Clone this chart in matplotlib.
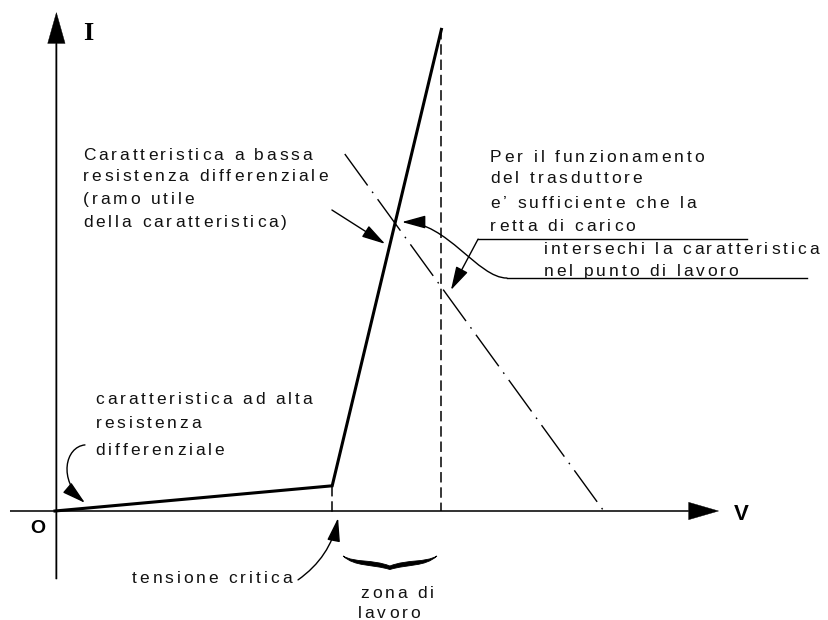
import matplotlib
matplotlib.use("Agg")
import matplotlib.pyplot as plt
from matplotlib.patches import FancyArrowPatch, PathPatch
from matplotlib.path import Path
from matplotlib.font_manager import FontProperties, findfont, get_font

plt.rcParams['lines.scale_dashes'] = False

# ---- data (arbitrary V / I units) ----
V_char = [0.0, 9.9, 13.8]      # piecewise characteristic
I_char = [0.0, 0.9, 17.2]
V_load = [10.35, 19.6]         # load line (retta di carico)
I_load = [12.75, 0.0]
V_crit = 9.9                   # tensione critica
V_top = 13.8                   # end of working zone

# ---- figure ----
S = 28.0  # px per unit
fig = plt.figure(figsize=(8.29, 6.20), dpi=100)
ax = fig.add_axes([0, 0, 1, 1])
ax.set_xlim(-55 / S, 774 / S)
ax.set_ylim(-109 / S, 511 / S)
ax.axis('off')

# axes with arrows
ax.arrow(-1.6, 0, 23.7 + 1.6, 0, width=0.045, head_width=0.62, head_length=1.07,
         length_includes_head=True, fc='k', ec='k', lw=0.3)
ax.arrow(0.05, -2.43, 0, 17.8 + 2.43, width=0.045, head_width=0.62, head_length=1.1,
         length_includes_head=True, fc='k', ec='k', lw=0.3)

# characteristic
ax.plot(V_char, I_char, color='k', lw=2.2, solid_joinstyle='miter', zorder=3)

# dashed verticals
ax.plot([V_crit, V_crit], [I_char[1], -0.15], color='k', lw=1.1, ls=(0, (7.5, 3.5)))
ax.plot([V_top, V_top], [I_char[2], 0], color='k', lw=1.1, ls=(0, (7.5, 3.5)))

# load line (dash-dot)
ax.plot(V_load, I_load, color='k', lw=1.0, ls=(0, (28, 5.5, 1.2, 5.5)))


def tracked(x, y, s, size=12.5, track=2.1, family='Liberation Sans', weight='normal'):
    fp = FontProperties(family=family, size=size, weight=weight)
    font = get_font(findfont(fp))
    font.set_size(size, 72)
    off = 0.0
    for ch in s:
        if ch != ' ':
            ax.annotate(ch, xy=(x, y), xytext=(off, 0), textcoords='offset points',
                        ha='left', va='baseline', fontproperties=fp, color='#111111')
        g = font.load_char(ord(ch))
        off += g.linearHoriAdvance / 65536.0 + track


# text block 1
for s, yy in zip(["Caratteristica a bassa", "resistenza differenziale",
                  "(ramo utile", "della caratteristica)"],
                 [12.54, 11.79, 10.96, 10.14]):
    tracked(1.0, yy, s)

# text block 2
for s, xx, yy in zip(["Per il funzionamento", "del trasduttore", "e\u2019 sufficiente che la",
                      "retta di carico", "intersechi la caratteristica", "nel punto di lavoro"],
                     [15.54, 15.54, 15.54, 15.54, 17.46, 17.46],
                     [12.46, 11.71, 10.82, 10.0, 9.18, 8.39]):
    tracked(xx, yy, s)

# text block 3
for s, yy in zip(["caratteristica ad alta", "resistenza", "differenziale"],
                 [3.82, 2.96, 2.0]):
    tracked(1.45, yy, s)

tracked(2.75, -2.57, "tensione critica")
tracked(10.9, -3.11, "zona di")
tracked(10.82, -3.82, "lavoro")

# axis labels
ax.text(1.18, 17.07, "I", fontsize=19, fontweight='bold', family='Liberation Serif',
        ha='center', va='center')
ax.text(24.5, -0.14, "V", fontsize=16, fontweight='bold', family='Liberation Sans',
        ha='center', va='center')
ax.text(-0.61, -0.64, "O", fontsize=14, fontweight='bold', family='Liberation Sans',
        ha='center', va='center')

astyle = "-|>,head_length=1.45,head_width=0.4"


def arrow(p0, p1, rad=0.0):
    a = FancyArrowPatch(p0, p1, arrowstyle=astyle, mutation_scale=10,
                        connectionstyle=f"arc3,rad={rad}", color='k', lw=1.0,
                        shrinkA=0, shrinkB=0, zorder=4)
    ax.add_patch(a)


def path_arrow(pts):
    p = Path(pts, [Path.MOVETO, Path.CURVE4, Path.CURVE4, Path.CURVE4])
    ax.add_patch(FancyArrowPatch(path=p, arrowstyle=astyle, mutation_scale=10,
                                 color='k', lw=1.0, zorder=4))


# arrow from block 1 to characteristic
arrow((9.89, 10.75), (11.79, 9.54))
# arrow from upper line to load line
ax.plot([24.71, 15.11], [9.71, 9.71], color='k', lw=1.0)
arrow((15.11, 9.71), (14.14, 7.89))
# lower line with S-curve to characteristic
ax.plot([26.86, 16.14], [8.32, 8.32], color='k', lw=1.0)
path_arrow([(16.14, 8.32), (15.1, 8.32), (14.0, 10.32), (12.39, 10.32)])
# curved arrow for high-resistance branch
path_arrow([(1.07, 2.36), (0.36, 2.29), (0.11, 1.11), (1.07, 0.29)])
# tensione critica arrow
arrow((8.68, -2.46), (10.11, -0.25), rad=0.2)

# brace (zona di lavoro), filled tapered shape
bp = Path([(10.29, -1.607),
           (10.71, -1.857), (11.32, -1.714), (11.96, -1.964),
           (12.61, -1.714), (13.21, -1.857), (13.64, -1.607),
           (13.21, -2.0), (12.61, -1.893), (11.96, -2.09),
           (11.32, -1.893), (10.71, -2.0), (10.29, -1.607),
           (10.29, -1.607)],
          [Path.MOVETO,
           Path.CURVE4, Path.CURVE4, Path.CURVE4,
           Path.CURVE4, Path.CURVE4, Path.CURVE4,
           Path.CURVE4, Path.CURVE4, Path.CURVE4,
           Path.CURVE4, Path.CURVE4, Path.CURVE4,
           Path.CLOSEPOLY])
ax.add_patch(PathPatch(bp, fc='k', ec='k', lw=0.6))

fig.savefig("out.png", dpi=100)
